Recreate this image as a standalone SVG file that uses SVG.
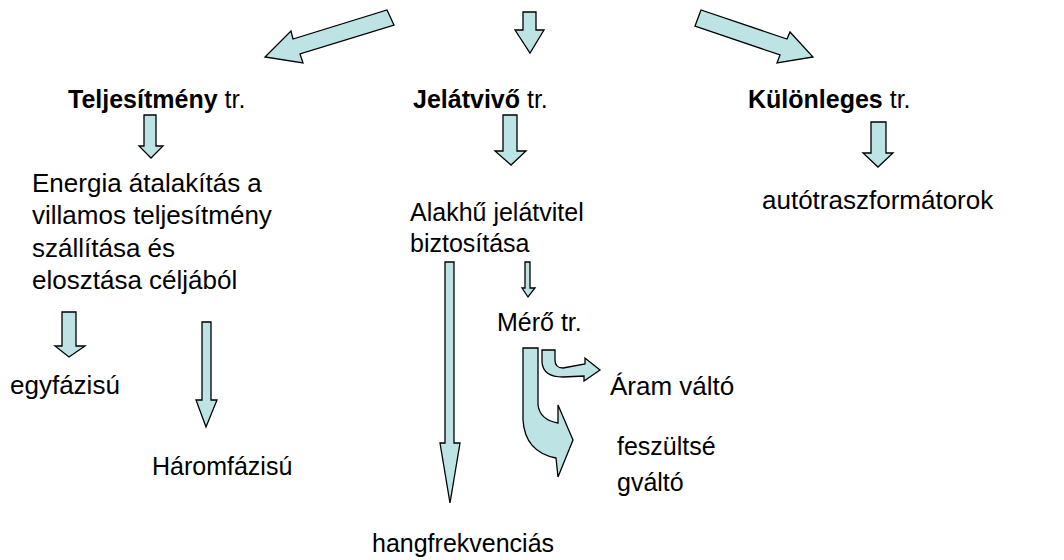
<svg xmlns="http://www.w3.org/2000/svg" width="1064" height="560" viewBox="0 0 1064 560">
<style>
.a{fill:#bde3e4;stroke:#000;stroke-width:1.3;stroke-linejoin:miter}
text{font-family:"Liberation Sans",Arial,sans-serif;font-size:25px;fill:#000}
.l{font-size:26px}
.b{font-weight:bold}
</style>
<rect width="1064" height="560" fill="#fff"/>
<g id="connectors">
<polygon class="a" points="387,10 394,25 300,54 303,63 265,57 291,31 293,39"/>
<polygon class="a" points="523,12 536,12 536,30 544,30 530,53 515,30 523,30"/>
<polygon class="a" points="701,10 695,26 780,55 777,63 813,57 790,32 787,39"/>
<polygon class="a" points="144,115 156,115 156,146 163,146 151,158 139,146 144,146"/>
<polygon class="a" points="503,115 517,115 517,151 526,151 511,165 495,151 503,151"/>
<polygon class="a" points="871,122 886,122 886,153 893,153 878,167 863,153 871,153"/>
<polygon class="a" points="62,312 76,312 76,346 85,346 69,357 55,346 62,346"/>
<polygon class="a" points="202,322 211,322 211,400 217,400 206,427 196,400 202,400"/>
<polygon class="a" points="445,262 454,262 454,443 460,443 450,503 440,443 445,443"/>
<polygon class="a" points="525,262 530,262 530,288 535,288 528,297 522,288 525,288"/>
<path class="a" d="M523,348 L538,348 L538,405 Q540,420 558,423 L558,405 L573,440 L558,477 L556,458 Q525,452 523,420 Z"/>
<path class="a" d="M542,350 L555,350 L555,360 Q555,368 563,368 L585,364 L585,358 L600,370 L584,381 L584,376 L563,377 Q543,377 542,362 Z"/>
</g>
<g id="n-teljesitmeny"><text x="68" y="108"><tspan class="b">Teljesítmény</tspan> tr.</text></g>
<g id="n-jelatvivo"><text x="413" y="108"><tspan class="b">Jelátvivő</tspan> tr.</text></g>
<g id="n-kulonleges"><text x="748" y="108"><tspan class="b">Különleges</tspan> tr.</text></g>
<g id="n-energia">
<text class="l" x="32" y="192">Energia átalakítás a</text>
<text class="l" x="32" y="224">villamos teljesítmény</text>
<text class="l" x="32" y="257">szállítása és</text>
<text class="l" x="32" y="289">elosztása céljából</text>
</g>
<g id="n-alakhu">
<text x="410" y="221">Alakhű jelátvitel</text>
<text x="410" y="252">biztosítása</text>
</g>
<g id="n-auto"><text class="l" x="762" y="209">autótraszformátorok</text></g>
<g id="n-mero"><text x="497" y="331">Mérő tr.</text></g>
<g id="n-egyfazisu"><text class="l" x="10" y="394">egyfázisú</text></g>
<g id="n-haromfazisu"><text x="152" y="475">Háromfázisú</text></g>
<g id="n-aram"><text class="l" x="610" y="395">Áram váltó</text></g>
<g id="n-feszultseg">
<text x="617" y="455">feszültsé</text>
<text x="617" y="491">gváltó</text>
</g>
<g id="n-hang"><text x="372" y="552">hangfrekvenciás</text></g>
</svg>
